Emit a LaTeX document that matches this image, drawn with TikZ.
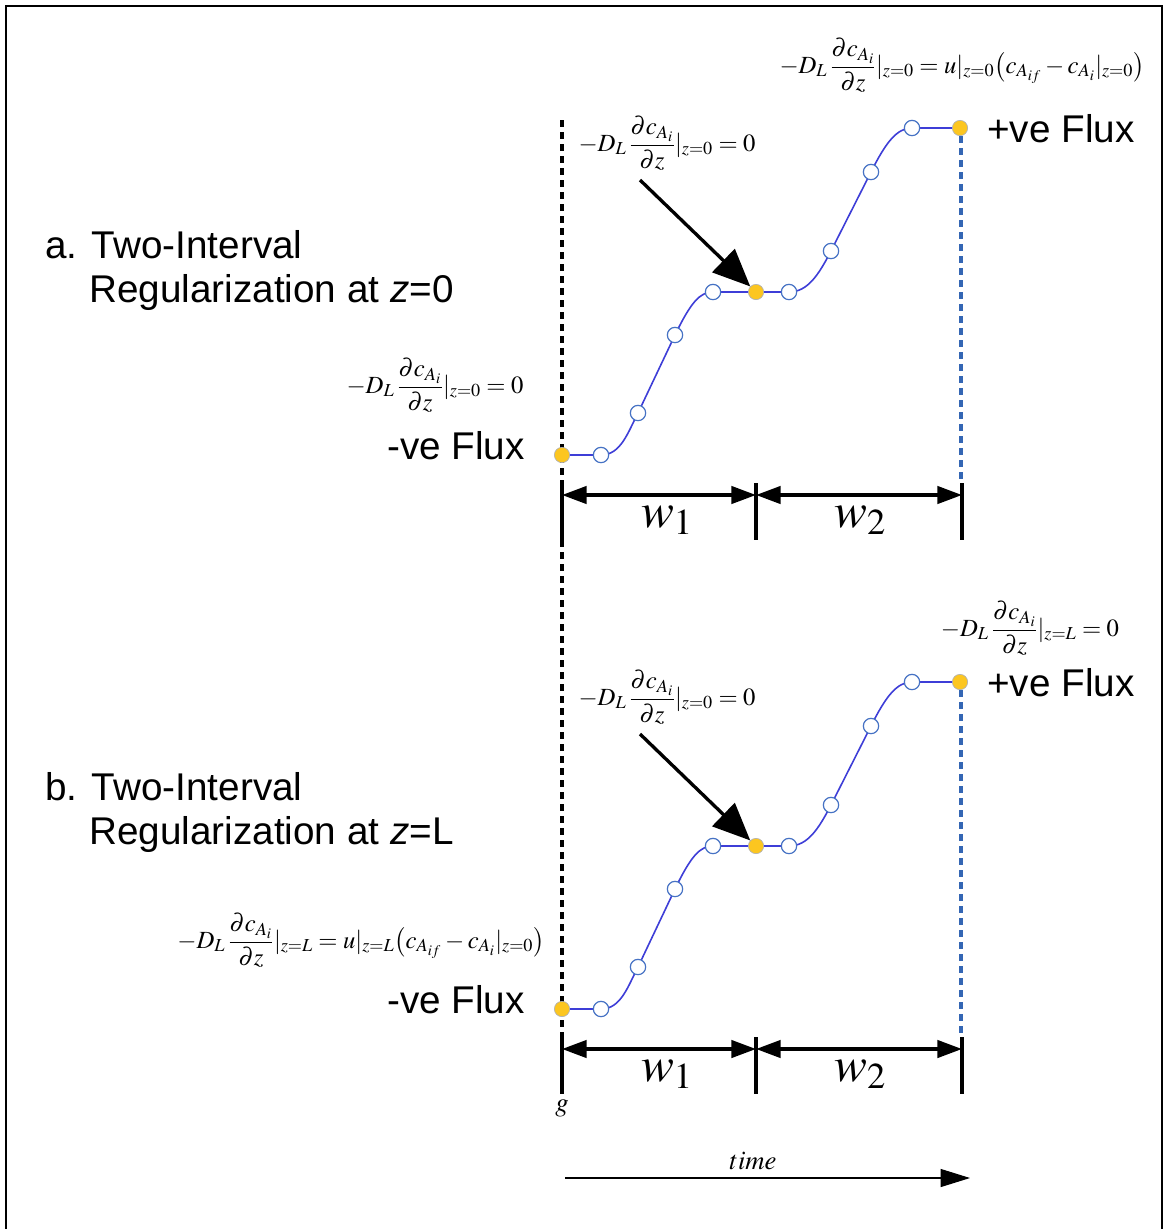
\documentclass[tikz,border=0pt]{standalone}
\usepackage{mathptmx}
\usepackage{fontspec}
\setmainfont{Liberation Sans}
\usetikzlibrary{arrows.meta}
\definecolor{curveblue}{RGB}{62,62,215}
\definecolor{dotblue}{RGB}{70,114,196}
\definecolor{dotyellow}{RGB}{252,198,32}
\definecolor{dashblue}{RGB}{52,102,180}
\newcommand\dcdz{\frac{\partial c_{A_i}}{\partial z}}
\begin{document}
\begin{tikzpicture}[x=0.75pt,y=-0.75pt,
  lab/.style={font=\fontsize{29}{34}\selectfont, inner sep=0pt},
  eq/.style={font=\fontsize{18.5}{22}\selectfont, inner sep=0pt},
  wlab/.style={font=\fontsize{37}{40}\selectfont, inner sep=0pt},
  smalllab/.style={font=\fontsize{20}{24}\selectfont, inner sep=0pt},
  hollow/.style={circle, draw=dotblue, fill=white, line width=0.9pt, minimum size=11.5pt, inner sep=0pt},
  filled/.style={circle, draw=gray!60, fill=dotyellow, line width=0.5pt, minimum size=11.5pt, inner sep=0pt},
  curve/.style={draw=curveblue, line width=1.2pt},
  blackdots/.style={line width=2.6pt, dash pattern=on 5pt off 4pt},
  bluedash/.style={draw=dashblue, line width=2.4pt, dash pattern=on 5pt off 4pt},
  tickline/.style={line width=2.7pt},
  dimarrow/.style={line width=2.6pt, {Triangle[length=18.5pt,width=13pt]}-{Triangle[length=18.5pt,width=13pt]}},
  pointer/.style={line width=2.5pt, -{Triangle[length=28pt,width=24pt]}},
  timearrow/.style={line width=0.8pt, -{Triangle[length=22pt,width=13.5pt]}},
  frameline/.style={line width=1.3pt}
]
\useasboundingbox (0,0) rectangle (1163,1229);
\draw[frameline] (6,1229) -- (6,6) -- (1162,6) -- (1162,1229);

% long black dotted line
\coordinate (dtop) at (562,120);
\coordinate (dbot) at (562,1037);
\draw[blackdots] (dtop) -- (dbot);

\foreach \p/\dy in {a/0,b/554}{
  \coordinate (\p-c0) at (562,{455+\dy});
  \coordinate (\p-c1) at (601,{455+\dy});
  \coordinate (\p-c2) at (638,{413+\dy});
  \coordinate (\p-c3) at (675,{335+\dy});
  \coordinate (\p-c4) at (713,{292+\dy});
  \coordinate (\p-c5) at (756,{292+\dy});
  \coordinate (\p-c6) at (789,{292+\dy});
  \coordinate (\p-c7) at (831,{251+\dy});
  \coordinate (\p-c8) at (871,{172+\dy});
  \coordinate (\p-c9) at (912,{128+\dy});
  \coordinate (\p-c10) at (960,{128+\dy});
  % blue dashed line
  \coordinate (\p-bt) at (961,{136+\dy});
  \coordinate (\p-bb) at (961,{483+\dy});
  \draw[bluedash] (\p-bt) -- (\p-bb);
  % curve
  \draw[curve] (\p-c0) -- (\p-c1)
    .. controls (621,{455+\dy}) and (628,{432+\dy}) .. (\p-c2) -- (\p-c3)
    .. controls (691,{302+\dy}) and (700,{292+\dy}) .. (\p-c4) -- (\p-c6)
    .. controls (808,{292+\dy}) and (819,{274+\dy}) .. (\p-c7) -- (\p-c8)
    .. controls (886,{142+\dy}) and (897,{128+\dy}) .. (\p-c9) -- (\p-c10);
  % dots
  \node[filled] (\p-d0) at (\p-c0) {};
  \node[hollow] (\p-d1) at (\p-c1) {};
  \node[hollow] (\p-d2) at (\p-c2) {};
  \node[hollow] (\p-d3) at (\p-c3) {};
  \node[hollow] (\p-d4) at (\p-c4) {};
  \node[filled] (\p-d5) at (\p-c5) {};
  \node[hollow] (\p-d6) at (\p-c6) {};
  \node[hollow] (\p-d7) at (\p-c7) {};
  \node[hollow] (\p-d8) at (\p-c8) {};
  \node[hollow] (\p-d9) at (\p-c9) {};
  \node[filled] (\p-d10) at (\p-c10) {};
  % ticks and dimension arrows
  \draw[tickline] (562,{483+\dy}) -- (562,{540+\dy});
  \draw[tickline] (756,{483+\dy}) -- (756,{540+\dy});
  \draw[tickline] (962,{483+\dy}) -- (962,{540+\dy});
  \coordinate (\p-t0) at (562,{495+\dy});
  \coordinate (\p-t1) at (756,{495+\dy});
  \coordinate (\p-t2) at (962,{495+\dy});
  \draw[dimarrow] (\p-t0) -- (\p-t1);
  \draw[dimarrow] (\p-t1) -- (\p-t2);
  \node[wlab] (\p-w1) at (667,{520+\dy}) {$w_1$};
  \node[wlab] (\p-w2) at (860,{520+\dy}) {$w_2$};
  % pointer arrow
  \coordinate (\p-ps) at (640,{180+\dy});
  \draw[pointer] (\p-ps) -- (\p-d5);
  \node[eq] (\p-eqmid) at (667,{143+\dy}) {$\displaystyle -D_L\,\dcdz|_{z=0}=0$};
  % flux labels
  \node[lab, anchor=base east] (\p-neg) at (525,{459+\dy}) {-ve Flux};
  \node[lab, anchor=base west] (\p-pos) at (987,{142+\dy}) {+ve Flux};
}

% section a texts
\node[lab, anchor=base west] (a-t1) at (45,258) {a. Two-Interval};
\node[lab, anchor=base west] (a-t2) at (89,302) {Regularization at \textit{z}=0};
\node[eq] (a-eqtop) at (962,65) {$\displaystyle -D_L\,\dcdz|_{z=0}=u|_{z=0}\bigl(c_{A_{if}}-c_{A_i}|_{z=0}\bigr)$};
\node[eq] (a-eqleft) at (435,385) {$\displaystyle -D_L\,\dcdz|_{z=0}=0$};

% section b texts
\node[lab, anchor=base west] (b-t1) at (45,800) {b. Two-Interval};
\node[lab, anchor=base west] (b-t2) at (89,844) {Regularization at \textit{z}=L};
\node[eq] (b-eqtop) at (1030,628) {$\displaystyle -D_L\,\dcdz|_{z=L}=0$};
\node[eq] (b-eqleft) at (361,940) {$\displaystyle -D_L\,\dcdz|_{z=L}=u|_{z=L}\bigl(c_{A_{if}}-c_{A_i}|_{z=0}\bigr)$};

% bottom: g and time axis
\node[smalllab] (glab) at (562,1108) {$g$};
\node[smalllab] (timelab) at (753,1161) {$time$};
\coordinate (ts) at (565,1178);
\coordinate (te) at (970,1178);
\draw[timearrow] (ts) -- (te);
\end{tikzpicture}
\end{document}
